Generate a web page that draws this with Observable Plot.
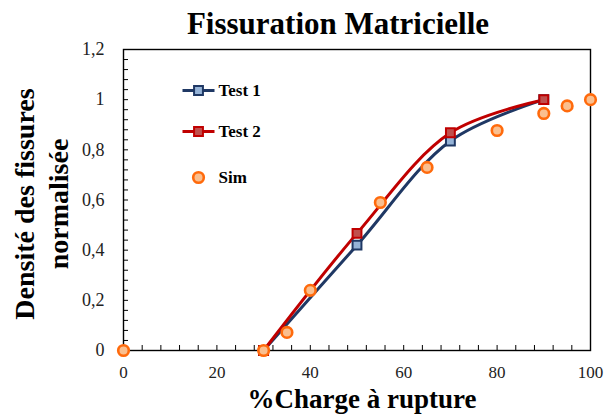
<!DOCTYPE html>
<html><head><meta charset="utf-8">
<script src="https://cdn.jsdelivr.net/npm/d3@7"></script>
<script src="https://cdn.jsdelivr.net/npm/@observablehq/plot@0.6"></script>
<style>
body{margin:0;background:#fff}
#wrap{position:relative;width:607px;height:414px;overflow:hidden}
#wrap svg{position:absolute;left:0;top:0}
.lbl{position:absolute;font-family:'Liberation Serif','Times New Roman',serif;font-weight:bold;color:#000;white-space:nowrap;line-height:1;transform:translate(-50%,-50%);text-align:center}
#title{left:338px;top:23px;font-size:31px}
#xtitle{left:362px;top:399px;font-size:27px}
#ytitle{left:42px;top:204px;font-size:28px;line-height:34px;white-space:pre;transform:translate(-50%,-50%) rotate(-90deg)}
</style>
</head><body><div id="wrap"><div id="chart"></div>
<div class="lbl" id="title"></div><div class="lbl" id="xtitle"></div><div class="lbl" id="ytitle"></div></div>
<script>
const test1X = [30, 50, 70, 90];
const test1Y = [0, 0.42, 0.835, 1.0];
const test2X = [30, 50, 70, 90];
const test2Y = [0, 0.467, 0.868, 1.0];
const simX = [0, 30, 35, 40, 55, 65, 80, 90, 95, 100];
const simY = [0, 0, 0.072, 0.24, 0.59, 0.73, 0.877, 0.945, 0.975, 1.0];
const seriesNames = ["Test 1", "Test 2", "Sim"];
const xTicks = [0, 20, 40, 60, 80, 100];
const yTicks = [0, 0.2, 0.4, 0.6, 0.8, 1, 1.2];
const xMinor = d3.range(0, 101, 4);
const yMinor = d3.range(0, 31).map(i => i * 0.04);
const title = "Fissuration Matricielle";
const xTitle = "%Charge à rupture";
const yTitle = "Densité des fissures\nnormalisée";

const W = 607, H = 414, mL = 123, mR = 17, mT = 49, mB = 64;
const fw = W - mL - mR, fh = H - mT - mB;
const font = "serif";
const navy = "#1F3864", red = "#C00000", orange = "#FF6A0C";

const t1 = test1X.map((x, i) => ({x, y: test1Y[i]}));
const t2 = test2X.map((x, i) => ({x, y: test2Y[i]}));
const sim = simX.map((x, i) => ({x, y: simY[i]}));
const lineSym = {draw(ctx) { ctx.moveTo(-16, 0); ctx.lineTo(16, 0); }};
const fmt = d => String(d).replace(".", ",");
const legendText = (name, dy) => Plot.text([name], {text: d => d, frameAnchor: "top-left", dx: 95, dy, textAnchor: "start", lineAnchor: "middle", fontSize: 17, fontWeight: "bold", fill: "#000", fontFamily: font});

const chart = Plot.plot({
  width: W, height: H,
  marginLeft: mL, marginRight: mR, marginTop: mT, marginBottom: mB,
  style: {fontFamily: font, background: "white"},
  x: {domain: [0, 100]},
  y: {domain: [0, 1.2]},
  marks: [
    Plot.tickY(yMinor, {y: d => d, insetRight: fw - 5, stroke: "#000", strokeWidth: 1}),
    Plot.tickX(xMinor, {x: d => d, insetTop: fh - 5, stroke: "#000", strokeWidth: 1}),
    Plot.frame({stroke: "#000", strokeWidth: 1.4}),
    Plot.axisX({ticks: xTicks, tickSize: 0, tickPadding: 15, fontSize: 17, tickFormat: fmt, label: null, fill: "#222", fontFamily: font}),
    Plot.axisY({ticks: yTicks, tickSize: 0, tickPadding: 19, fontSize: 18, tickFormat: fmt, label: null, fill: "#222", fontFamily: font}),
    Plot.line(t1, {x: "x", y: "y", curve: "catmull-rom", stroke: navy, strokeWidth: 3}),
    Plot.line(t2, {x: "x", y: "y", curve: "catmull-rom", stroke: red, strokeWidth: 3}),
    Plot.dot(t1, {x: "x", y: "y", symbol: "square", r: 5, fill: "#95B3D7", stroke: navy, strokeWidth: 2}),
    Plot.dot(t2, {x: "x", y: "y", symbol: "square", r: 5, fill: "#C0504D", stroke: red, strokeWidth: 2}),
    Plot.dot(sim, {x: "x", y: "y", symbol: "circle", r: 5.3, fill: "#FABF8F", stroke: orange, strokeWidth: 2.6}),
    Plot.dot([seriesNames[0]], {frameAnchor: "top-left", dx: 75, dy: 41, symbol: lineSym, stroke: navy, strokeWidth: 3}),
    Plot.dot([seriesNames[0]], {frameAnchor: "top-left", dx: 75, dy: 41, symbol: "square", r: 5, fill: "#95B3D7", stroke: navy, strokeWidth: 2}),
    Plot.dot([seriesNames[1]], {frameAnchor: "top-left", dx: 75, dy: 82, symbol: lineSym, stroke: red, strokeWidth: 3}),
    Plot.dot([seriesNames[1]], {frameAnchor: "top-left", dx: 75, dy: 82, symbol: "square", r: 5, fill: "#C0504D", stroke: red, strokeWidth: 2}),
    Plot.dot([seriesNames[2]], {frameAnchor: "top-left", dx: 75, dy: 128, symbol: "circle", r: 5.3, fill: "#FABF8F", stroke: orange, strokeWidth: 2.6}),
    legendText(seriesNames[0], 41),
    legendText(seriesNames[1], 82),
    legendText(seriesNames[2], 128)
  ]
});
document.getElementById("chart").append(chart);
document.getElementById("title").textContent = title;
document.getElementById("xtitle").textContent = xTitle;
document.getElementById("ytitle").textContent = yTitle;
</script>
</body></html>
